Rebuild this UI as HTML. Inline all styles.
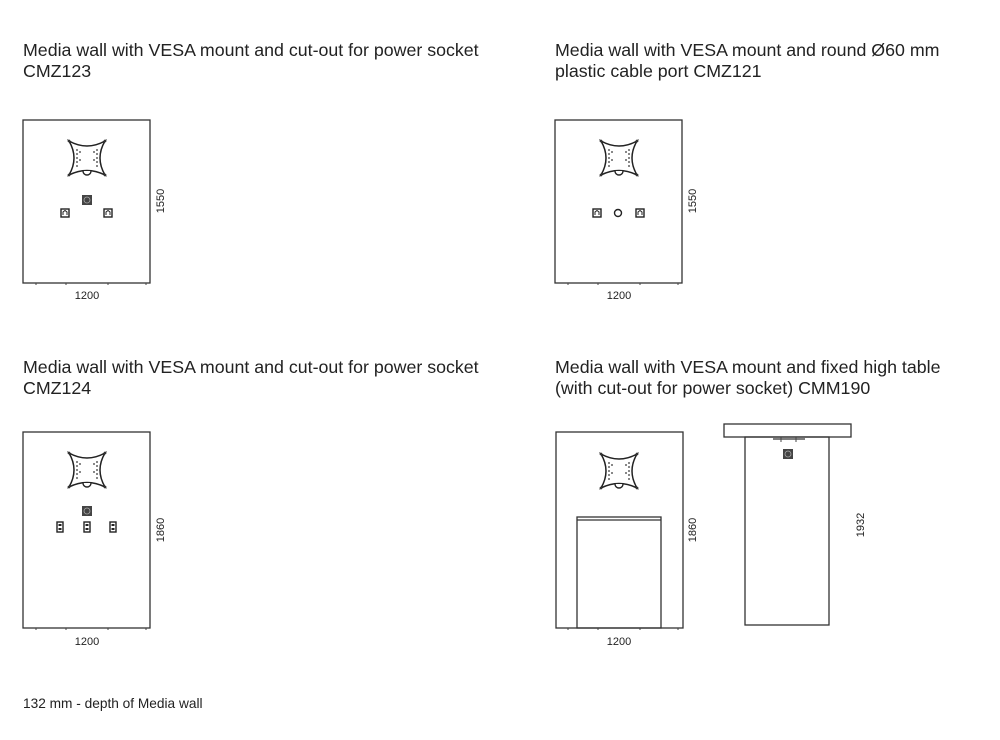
<!DOCTYPE html>
<html><head><meta charset="utf-8"><style>
html,body{margin:0;padding:0;background:#fff;}
svg{display:block;font-family:"Liberation Sans",Arial,sans-serif;}
.t{font-size:17.8px;fill:#222;}
.d{font-size:11px;fill:#222;}
</style></head><body>
<svg width="1000" height="740" viewBox="0 0 1000 740" xmlns="http://www.w3.org/2000/svg">
<defs>
<g id="star">
<path d="M-18,-17 Q0,-7 18,-17 Q8,0 18,17 Q0,8 -18,17 Q-8,0 -18,-17 Z" fill="#fff" stroke="#222" stroke-width="1.5"/>
<g fill="#333">
<circle cx="-10" cy="-8" r="0.9"/><circle cx="-10" cy="-4" r="0.9"/><circle cx="-10" cy="0" r="0.9"/><circle cx="-10" cy="4" r="0.9"/><circle cx="-10" cy="8" r="0.9"/>
<circle cx="-7" cy="-6" r="0.9"/><circle cx="-7" cy="2" r="0.9"/>
<circle cx="10" cy="-8" r="0.9"/><circle cx="10" cy="-4" r="0.9"/><circle cx="10" cy="0" r="0.9"/><circle cx="10" cy="4" r="0.9"/><circle cx="10" cy="8" r="0.9"/>
<circle cx="7" cy="-6" r="0.9"/><circle cx="7" cy="2" r="0.9"/>
<circle cx="-18" cy="-17" r="1.4"/><circle cx="18" cy="-17" r="1.4"/><circle cx="-18" cy="17" r="1.4"/><circle cx="18" cy="17" r="1.4"/>
</g>
<path d="M-4,13 A4,4 0 0 0 4,13" fill="#fff" stroke="#222" stroke-width="1.4"/>
</g>
<g id="sock"><rect x="-5" y="-5" width="10" height="10" fill="#444"/><circle r="3" fill="none" stroke="#aaa" stroke-width="0.8"/></g>
<g id="out"><rect x="-4" y="-4" width="8" height="8" fill="#fff" stroke="#222" stroke-width="1.4"/><path d="M-2,2 L-2,-1 L0,-2.5 L2,-1 L2,2" fill="none" stroke="#222" stroke-width="1"/></g>
<g id="out2"><rect x="-3" y="-5" width="6" height="10" fill="#fff" stroke="#222" stroke-width="1.4"/><rect x="-1.5" y="-3" width="3" height="2" fill="#222"/><rect x="-1.5" y="1" width="3" height="2" fill="#222"/></g>
</defs>

<text class="t" x="23" y="56">Media wall with VESA mount and cut-out for power socket</text>
<text class="t" x="23" y="77">CMZ123</text>
<text class="t" x="555" y="56">Media wall with VESA mount and round Ø60 mm</text>
<text class="t" x="555" y="77">plastic cable port CMZ121</text>
<text class="t" x="23" y="373">Media wall with VESA mount and cut-out for power socket</text>
<text class="t" x="23" y="394">CMZ124</text>
<text class="t" x="555" y="373">Media wall with VESA mount and fixed high table</text>
<text class="t" x="555" y="394">(with cut-out for power socket) CMM190</text>

<g fill="none" stroke="#333" stroke-width="1.3">
<rect x="23" y="120" width="127" height="163"/>
<rect x="555" y="120" width="127" height="163"/>
<rect x="23" y="432" width="127" height="196"/>
<rect x="556" y="432" width="127" height="196"/>
<rect x="577" y="517" width="84" height="111"/>
<line x1="577" y1="520" x2="661" y2="520"/>
<rect x="724" y="424" width="127" height="13"/>
<rect x="745" y="437" width="84" height="188"/>
<line x1="773" y1="439" x2="805" y2="439"/>
</g>
<g stroke="#444" stroke-width="1">
<line x1="781" y1="437" x2="781" y2="442"/><line x1="796" y1="437" x2="796" y2="442"/>
<line x1="36" y1="283" x2="36" y2="285"/><line x1="66" y1="283" x2="66" y2="285"/><line x1="108" y1="283" x2="108" y2="285"/><line x1="146" y1="283" x2="146" y2="285"/>
<line x1="568" y1="283" x2="568" y2="285"/><line x1="598" y1="283" x2="598" y2="285"/><line x1="640" y1="283" x2="640" y2="285"/><line x1="678" y1="283" x2="678" y2="285"/>
<line x1="36" y1="628" x2="36" y2="630"/><line x1="66" y1="628" x2="66" y2="630"/><line x1="108" y1="628" x2="108" y2="630"/><line x1="146" y1="628" x2="146" y2="630"/>
<line x1="568" y1="628" x2="568" y2="630"/><line x1="598" y1="628" x2="598" y2="630"/><line x1="640" y1="628" x2="640" y2="630"/><line x1="678" y1="628" x2="678" y2="630"/>
</g>

<use href="#star" x="87" y="158"/>
<use href="#sock" x="87" y="200"/>
<use href="#out" x="65" y="213"/>
<use href="#out" x="108" y="213"/>

<use href="#star" x="619" y="158"/>
<use href="#out" x="597" y="213"/>
<use href="#out" x="640" y="213"/>
<circle cx="618" cy="213" r="3.5" fill="#fff" stroke="#222" stroke-width="1.4"/>

<use href="#star" x="87" y="470"/>
<use href="#sock" x="87" y="511"/>
<use href="#out2" x="60" y="527"/>
<use href="#out2" x="87" y="527"/>
<use href="#out2" x="113" y="527"/>

<use href="#star" x="619" y="471"/>
<use href="#sock" x="788" y="454"/>

<text class="d" x="87" y="299" text-anchor="middle">1200</text>
<text class="d" x="619" y="299" text-anchor="middle">1200</text>
<text class="d" x="87" y="645" text-anchor="middle">1200</text>
<text class="d" x="619" y="645" text-anchor="middle">1200</text>
<text class="d" transform="translate(164,201) rotate(-90)" text-anchor="middle">1550</text>
<text class="d" transform="translate(696,201) rotate(-90)" text-anchor="middle">1550</text>
<text class="d" transform="translate(164,530) rotate(-90)" text-anchor="middle">1860</text>
<text class="d" transform="translate(696,530) rotate(-90)" text-anchor="middle">1860</text>
<text class="d" transform="translate(864,525) rotate(-90)" text-anchor="middle">1932</text>

<text x="23" y="708" style="font-size:13.7px" fill="#222">132 mm - depth of Media wall</text>
</svg>
</body></html>
